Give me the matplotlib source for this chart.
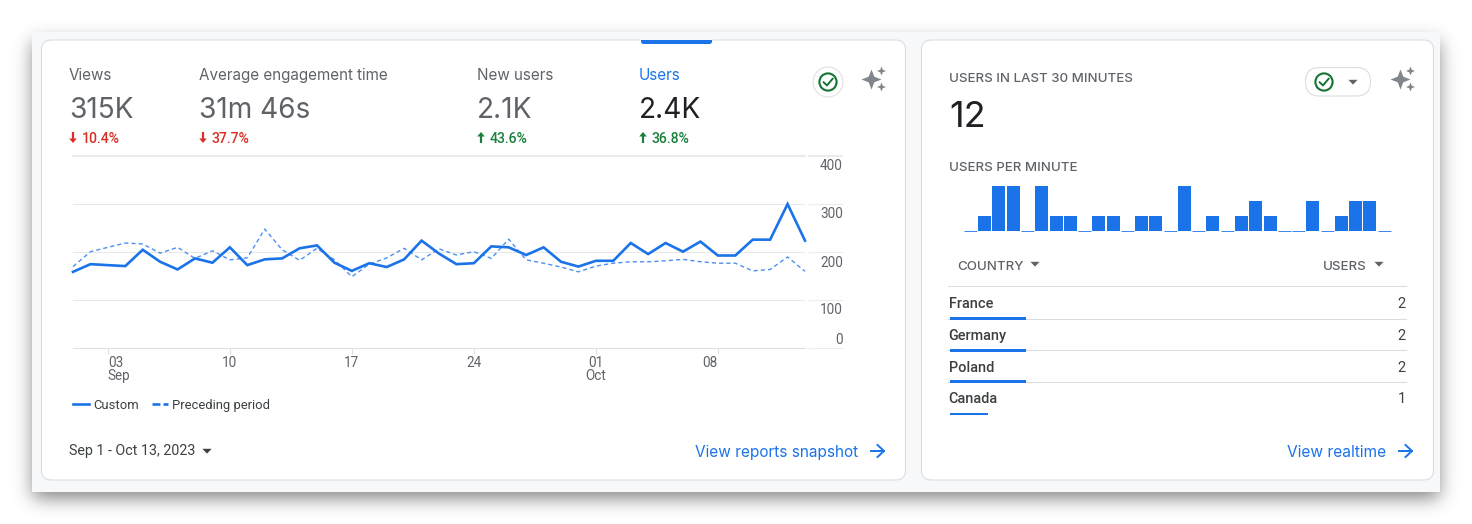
import math
import numpy as np
import matplotlib
matplotlib.use('Agg')
import matplotlib.pyplot as plt
from matplotlib.lines import Line2D
from matplotlib.patches import Circle, FancyBboxPatch, Polygon, Rectangle

plt.rcParams['font.family'] = ['Roboto', 'DejaVu Sans']

W, H = 1472, 524
BLUE = '#1a73e8'
GREY = '#5f6368'
RED = '#d93025'
GREEN = '#188038'
PANEL = '#f7f8fa'
HEAD = ['Inter', 'Roboto', 'DejaVu Sans']

## Data
users = [159, 175, 173, 171, 205, 180, 164, 187, 178, 210, 173, 185, 187, 208, 214, 178, 161, 177, 169, 185, 224, 197,
         175, 177, 212, 210, 194, 210, 180, 170, 182, 182, 219, 196, 219, 201, 222, 193, 193, 226, 226, 300, 224]
preceding = [170, 201, 210, 219, 217, 198, 210, 187, 203, 184, 188, 248, 205, 183, 208, 184, 149, 175, 188, 208, 184, 207,
             194, 201, 187, 227, 184, 177, 169, 159, 171, 177, 180, 180, 182, 185, 180, 177, 177, 161, 164, 190, 160]
day_ticks = [2, 9, 16, 23, 30, 37]
day_labels = ['03\nSep', '10', '17', '24', '01\nOct', '08']
y_ticks = [0, 100, 200, 300, 400]

per_minute = [0, 1, 3, 3, 0, 3, 1, 1, 0, 1, 1, 0, 1, 1, 0, 3, 0, 1, 0, 1, 2, 1, 0, 0, 2, 0, 1, 2, 2, 0]

countries = ['France', 'Germany', 'Poland', 'Canada']
country_users = [2, 2, 2, 1]

metric_names = ['Views', 'Average engagement time', 'New users', 'Users']
metric_values = ['315K', '31m 46s', '2.1K', '2.4K']
metric_changes = ['10.4%', '37.7%', '43.6%', '36.8%']
metric_up = [False, False, True, True]


def axes_px(left, top, right, bottom):
    return fig.add_axes([left / W, 1 - bottom / H, (right - left) / W, (bottom - top) / H])


def px(size):
    # css pixels to points
    return size * 0.72


def sparkle(cx, cy):
    for dx, dy, r in [(0, 0, 10), (10, -8.5, 4.5), (10, 7.5, 4.5)]:
        x, y = cx + dx, cy + dy
        w = r * 0.28
        pts = [(x, y - r), (x + w, y - w), (x + r, y), (x + w, y + w), (x, y + r), (x - w, y + w), (x - r, y), (x - w, y - w)]
        bg.add_patch(Polygon(pts, fc='#80868b', ec='none'))


def check(cx, cy):
    bg.add_patch(Circle((cx, cy), 8.6, fc='none', ec='#137333', lw=1.5))
    bg.plot([cx - 4.3, cx - 1, cx + 4.6], [cy + 0.3, cy + 3.4, cy - 3.2], color='#137333', lw=1.4)


def caret(cx, cy, color='#5f6368', r=4.6):
    bg.add_patch(Polygon([(cx - r, cy - 2.2), (cx + r, cy - 2.2), (cx, cy + 2.6)], fc=color, ec='none'))


def right_arrow(cx, cy):
    bg.plot([cx - 6.5, cx + 6], [cy, cy], color=BLUE, lw=1.4)
    bg.plot([cx, cx + 6.5, cx], [cy - 6, cy, cy + 6], color=BLUE, lw=1.4)


def small_arrow(x, y, up, color):
    # y is the middle of the arrow
    tip = -1 if up else 1
    bg.plot([x, x], [y - tip * 5.5, y + tip * 2], color=color, lw=1.6, solid_capstyle='butt')
    bg.add_patch(Polygon([(x - 3.8, y + tip * 1), (x + 3.8, y + tip * 1), (x, y + tip * 5.5)], fc=color, ec='none'))


fig = plt.figure(figsize=(W / 100, H / 100), dpi=100, facecolor='white')

## Page, shadow and cards in pixel coordinates
bg = fig.add_axes([0, 0, 1, 1])
bg.set_xlim(0, W)
bg.set_ylim(H, 0)
bg.axis('off')

erf = np.vectorize(math.erf)
xs = np.arange(W) + 0.5
ys = np.arange(H) + 0.5
sx = (erf((xs - 33) / 13) - erf((xs - 1439) / 13)) / 2
sy = (erf((ys - 42) / 13) - erf((ys - 498) / 13)) / 2
rgba = np.zeros((H, W, 4))
rgba[..., :3] = 0.18
rgba[..., 3] = np.outer(sy, sx) * 0.6
bg.imshow(rgba, extent=(0, W, H, 0), aspect='auto', interpolation='nearest', zorder=0)
bg.set_xlim(0, W)
bg.set_ylim(H, 0)

bg.add_patch(Rectangle((32, 32), 1408, 460, fc=PANEL, ec='none', zorder=1))
for left, right in [(41.5, 905.5), (921.5, 1433.5)]:
    bg.add_patch(FancyBboxPatch((left + 10, 50), right - left - 20, 420, boxstyle='round,pad=10,rounding_size=10',
                                fc='white', ec='#dadce0', lw=0.75, zorder=1))
bg.add_patch(FancyBboxPatch((643, 36), 67, 6, boxstyle='round,pad=2,rounding_size=2.5', fc=BLUE, ec='none', zorder=2))
bg.add_patch(Rectangle((640, 32), 73, 7.6, fc=PANEL, ec='none', zorder=3))

## Metric header
name_x = [69, 199, 477, 639]
change_x = [82, 212, 490, 652]
for i, name in enumerate(metric_names):
    selected = name == 'Users'
    bg.text(name_x[i], 80, name, family=HEAD, fontsize=px(15.2), color=BLUE if selected else GREY, va='baseline')
    bg.text(name_x[i], 118, metric_values[i], family=HEAD, fontsize=px(28), color='#202124' if selected else GREY, va='baseline')
    color = GREEN if metric_up[i] else RED
    small_arrow(change_x[i] - 9, 137.5, metric_up[i], color)
    bg.text(change_x[i], 143, metric_changes[i], fontsize=px(14), fontweight='medium', color=color, va='baseline')

bg.add_patch(Circle((828, 82), 15, fc='white', ec='#e0e0e0', lw=0.8))
check(828, 82)
sparkle(871.5, 79.5)

bg.add_patch(FancyBboxPatch((1305.5 + 14, 67.5 + 14), 37, 0.5, boxstyle='round,pad=14,rounding_size=14',
                            fc='white', ec='#dadce0', lw=0.8))
check(1324, 82)
caret(1353, 82)
sparkle(1400.5, 79.5)

## Line chart
ax = axes_px(73, 156, 805, 348.3)
ax.patch.set_alpha(0)
days = np.arange(len(users))
ax.plot(days, preceding, color='#4d90f0', lw=1.0, ls=(0, (3, 2.2)), clip_on=False, zorder=3)
ax.plot(days, users, color=BLUE, lw=1.9, clip_on=False, zorder=4, solid_joinstyle='miter')
ax.set_xlim(0, 42)
ax.set_ylim(0, 400)
ax.set_yticks(y_ticks)
ax.set_yticklabels([])
ax.tick_params(axis='y', length=0)
ax.yaxis.grid(True, color='#e8e8e8', lw=0.75)
ax.set_axisbelow(True)
for name in ['top', 'left', 'right']:
    ax.spines[name].set_visible(False)
ax.spines['bottom'].set_color('#e0e0e0')
ax.spines['bottom'].set_linewidth(0.75)
ax.set_xticks(day_ticks)
ax.set_xticklabels(day_labels, fontsize=px(13.5), color=GREY, linespacing=0.88)
ax.tick_params(axis='x', length=4.2, width=0.7, color='#e0e0e0', pad=1.5)
for label, align in zip(ax.get_xticklabels(), ['left', 'center', 'center', 'center', 'center', 'right']):
    label.set_ha(align)
    label.set_multialignment('left' if align == 'left' else 'center')

# thicker top rule, and the short rules beside the y labels
ax.plot([0, 42], [400, 400], color='#ebebeb', lw=1.5, clip_on=False)
label_offset = {0: 8, 100: -10, 200: -11, 300: -10, 400: -10}
for tick in y_ticks:
    bg.plot([809, 842], [348.3 - tick * 0.4808] * 2, color='#ebebeb', lw=1.5 if tick == 400 else 0.75, zorder=2)
    ax.annotate(str(tick), xy=(1, tick), xycoords=ax.get_yaxis_transform(), xytext=(843 - 805, label_offset[tick]),
                textcoords='offset pixels', ha='right', va='center', fontsize=px(13.5), color=GREY, annotation_clip=False)

handles = [Line2D([], [], color=BLUE, lw=1.9), Line2D([], [], color=BLUE, lw=1.9, ls=(0, (3, 1.2)))]
ax.legend(handles, ['Custom', 'Preceding period'], ncol=2, frameon=False, loc='upper left',
          bbox_to_anchor=(73 / W, 1 - 399 / H), bbox_transform=fig.transFigure,
          fontsize=px(13), labelcolor='#3c4043', handlelength=1.25, handletextpad=0.3, columnspacing=1.0, borderpad=0, borderaxespad=0)

bg.text(69, 455, 'Sep 1 - Oct 13, 2023', fontsize=px(14.2), color='#3c4043', va='baseline')
caret(207, 451, '#3c4043')
bg.text(695, 457, 'View reports snapshot', family=HEAD, fontsize=px(15.4), color=BLUE, va='baseline')
right_arrow(877.5, 451)

## Realtime card
bg.text(949, 82, 'USERS IN LAST 30 MINUTES', family=HEAD, fontsize=px(13.3), fontweight='medium', color=GREY, va='baseline')
bg.text(949, 127, '12', family=HEAD, fontsize=px(36), color='#202124', va='baseline')
bg.text(949, 171, 'USERS PER MINUTE', family=HEAD, fontsize=px(13.3), fontweight='medium', color=GREY, va='baseline')

bars = axes_px(963.3, 186, 1391.3, 230.7)
bars.patch.set_alpha(0)
minutes = np.arange(len(per_minute))
bars.bar(minutes, per_minute, width=0.91, color=BLUE)
empty = minutes[np.array(per_minute) == 0]
bars.hlines([0] * len(empty), empty - 0.46, empty + 0.46, color=BLUE, lw=0.6, clip_on=False)
bars.set_xlim(-0.5, len(per_minute) - 0.5)
bars.set_ylim(0, 3)
bars.axis('off')

bg.text(957, 270, 'COUNTRY', family=HEAD, fontsize=px(13.3), fontweight='medium', color=GREY, va='baseline')
caret(1035, 264)
bg.text(1323, 270, 'USERS', family=HEAD, fontsize=px(13.3), fontweight='medium', color=GREY, va='baseline')
caret(1379, 264)

row_lines = [286.3, 319.3, 350.3, 382.3]
for y in row_lines:
    bg.plot([948, 1406], [y, y], color='#dadce0', lw=0.75, zorder=2)
row_text = [308, 340, 372, 403]
row_bar = [318, 350, 381.5, 414.5]
for i, country in enumerate(countries):
    bg.text(948.5, row_text[i], country, fontsize=px(14.5), fontweight='medium', color='#3c4043', va='baseline')
    bg.text(1406, row_text[i], str(country_users[i]), fontsize=px(14.5), color='#3c4043', ha='right', va='baseline')
    bg.add_patch(Rectangle((950, row_bar[i] - 1.5), country_users[i] * 38, 3 if i < 3 else 2, fc=BLUE, ec='none', zorder=3))

bg.text(1287, 457, 'View realtime', family=HEAD, fontsize=px(15.5), color=BLUE, va='baseline')
right_arrow(1405.5, 451)

fig.savefig('out.png', dpi=100)
